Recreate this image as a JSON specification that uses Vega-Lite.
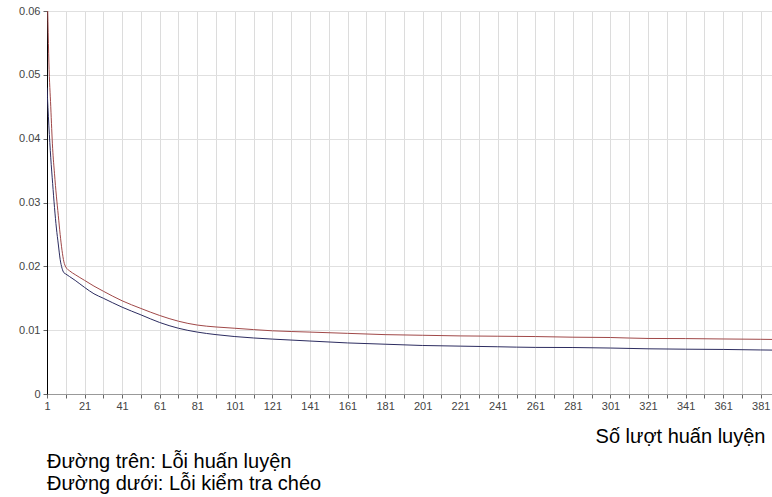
{
  "$schema": "https://vega.github.io/schema/vega-lite/v6.json",
  "autosize": {"type": "none"},
  "padding": {"left": 47, "top": 11, "right": 0, "bottom": 103},
  "width": 725,
  "height": 383,
  "background": "white",
  "config": {
    "view": {"stroke": "#a0a0a0", "strokeWidth": 1},
    "font": "Liberation Sans"
  },
  "title": {
    "text": ["Đường trên: Lỗi huấn luyện", "Đường dưới: Lỗi kiểm tra chéo"],
    "orient": "bottom",
    "anchor": "start",
    "frame": "group",
    "font": "Liberation Sans",
    "fontSize": 20,
    "fontWeight": "normal",
    "color": "#000000",
    "lineHeight": 22,
    "offset": 6
  },
  "data": {
    "values": [
      {"x": 1, "s": "Lỗi huấn luyện", "v": 0.066},
      {"x": 2, "s": "Lỗi huấn luyện", "v": 0.052},
      {"x": 3, "s": "Lỗi huấn luyện", "v": 0.045},
      {"x": 4, "s": "Lỗi huấn luyện", "v": 0.0385},
      {"x": 5, "s": "Lỗi huấn luyện", "v": 0.0345},
      {"x": 6, "s": "Lỗi huấn luyện", "v": 0.031},
      {"x": 7, "s": "Lỗi huấn luyện", "v": 0.028},
      {"x": 8, "s": "Lỗi huấn luyện", "v": 0.025},
      {"x": 9, "s": "Lỗi huấn luyện", "v": 0.0225},
      {"x": 10, "s": "Lỗi huấn luyện", "v": 0.0207},
      {"x": 11, "s": "Lỗi huấn luyện", "v": 0.0199},
      {"x": 13, "s": "Lỗi huấn luyện", "v": 0.0193},
      {"x": 16, "s": "Lỗi huấn luyện", "v": 0.0187},
      {"x": 21, "s": "Lỗi huấn luyện", "v": 0.0178},
      {"x": 26, "s": "Lỗi huấn luyện", "v": 0.0169},
      {"x": 31, "s": "Lỗi huấn luyện", "v": 0.0161},
      {"x": 41, "s": "Lỗi huấn luyện", "v": 0.0146},
      {"x": 51, "s": "Lỗi huấn luyện", "v": 0.0134},
      {"x": 61, "s": "Lỗi huấn luyện", "v": 0.0123},
      {"x": 71, "s": "Lỗi huấn luyện", "v": 0.0114},
      {"x": 81, "s": "Lỗi huấn luyện", "v": 0.0108},
      {"x": 91, "s": "Lỗi huấn luyện", "v": 0.0105},
      {"x": 101, "s": "Lỗi huấn luyện", "v": 0.0103},
      {"x": 121, "s": "Lỗi huấn luyện", "v": 0.0099},
      {"x": 141, "s": "Lỗi huấn luyện", "v": 0.0097},
      {"x": 161, "s": "Lỗi huấn luyện", "v": 0.0095},
      {"x": 181, "s": "Lỗi huấn luyện", "v": 0.0093},
      {"x": 201, "s": "Lỗi huấn luyện", "v": 0.0092},
      {"x": 221, "s": "Lỗi huấn luyện", "v": 0.0091},
      {"x": 241, "s": "Lỗi huấn luyện", "v": 0.00905},
      {"x": 261, "s": "Lỗi huấn luyện", "v": 0.0090},
      {"x": 281, "s": "Lỗi huấn luyện", "v": 0.0089},
      {"x": 301, "s": "Lỗi huấn luyện", "v": 0.00885},
      {"x": 321, "s": "Lỗi huấn luyện", "v": 0.0087},
      {"x": 341, "s": "Lỗi huấn luyện", "v": 0.00868},
      {"x": 361, "s": "Lỗi huấn luyện", "v": 0.00862},
      {"x": 381, "s": "Lỗi huấn luyện", "v": 0.00857},
      {"x": 387, "s": "Lỗi huấn luyện", "v": 0.00855},
      {"x": 1, "s": "Lỗi kiểm tra chéo", "v": 0.048},
      {"x": 2, "s": "Lỗi kiểm tra chéo", "v": 0.042},
      {"x": 3, "s": "Lỗi kiểm tra chéo", "v": 0.037},
      {"x": 4, "s": "Lỗi kiểm tra chéo", "v": 0.033},
      {"x": 5, "s": "Lỗi kiểm tra chéo", "v": 0.0292},
      {"x": 6, "s": "Lỗi kiểm tra chéo", "v": 0.026},
      {"x": 7, "s": "Lỗi kiểm tra chéo", "v": 0.0235},
      {"x": 8, "s": "Lỗi kiểm tra chéo", "v": 0.0211},
      {"x": 9, "s": "Lỗi kiểm tra chéo", "v": 0.0197},
      {"x": 10, "s": "Lỗi kiểm tra chéo", "v": 0.019},
      {"x": 11, "s": "Lỗi kiểm tra chéo", "v": 0.0188},
      {"x": 13, "s": "Lỗi kiểm tra chéo", "v": 0.0184},
      {"x": 16, "s": "Lỗi kiểm tra chéo", "v": 0.0178},
      {"x": 21, "s": "Lỗi kiểm tra chéo", "v": 0.0167},
      {"x": 26, "s": "Lỗi kiểm tra chéo", "v": 0.0157},
      {"x": 31, "s": "Lỗi kiểm tra chéo", "v": 0.015},
      {"x": 41, "s": "Lỗi kiểm tra chéo", "v": 0.0136},
      {"x": 51, "s": "Lỗi kiểm tra chéo", "v": 0.0124},
      {"x": 61, "s": "Lỗi kiểm tra chéo", "v": 0.0112},
      {"x": 71, "s": "Lỗi kiểm tra chéo", "v": 0.0103},
      {"x": 81, "s": "Lỗi kiểm tra chéo", "v": 0.0097},
      {"x": 91, "s": "Lỗi kiểm tra chéo", "v": 0.0093},
      {"x": 101, "s": "Lỗi kiểm tra chéo", "v": 0.0090},
      {"x": 121, "s": "Lỗi kiểm tra chéo", "v": 0.0086},
      {"x": 141, "s": "Lỗi kiểm tra chéo", "v": 0.0083},
      {"x": 161, "s": "Lỗi kiểm tra chéo", "v": 0.0080},
      {"x": 181, "s": "Lỗi kiểm tra chéo", "v": 0.0078},
      {"x": 201, "s": "Lỗi kiểm tra chéo", "v": 0.0076},
      {"x": 221, "s": "Lỗi kiểm tra chéo", "v": 0.0075},
      {"x": 241, "s": "Lỗi kiểm tra chéo", "v": 0.0074},
      {"x": 261, "s": "Lỗi kiểm tra chéo", "v": 0.0073},
      {"x": 281, "s": "Lỗi kiểm tra chéo", "v": 0.00728},
      {"x": 301, "s": "Lỗi kiểm tra chéo", "v": 0.0072},
      {"x": 321, "s": "Lỗi kiểm tra chéo", "v": 0.00708},
      {"x": 341, "s": "Lỗi kiểm tra chéo", "v": 0.00702},
      {"x": 361, "s": "Lỗi kiểm tra chéo", "v": 0.00698},
      {"x": 381, "s": "Lỗi kiểm tra chéo", "v": 0.0069},
      {"x": 387, "s": "Lỗi kiểm tra chéo", "v": 0.00688}
    ]
  },
  "mark": {"type": "line", "strokeWidth": 1, "clip": true, "interpolate": "monotone"},
  "encoding": {
    "x": {
      "field": "x",
      "type": "quantitative",
      "scale": {"domain": [1, 387], "nice": false, "zero": false},
      "axis": {
        "values": [1, 11, 21, 31, 41, 51, 61, 71, 81, 91, 101, 111, 121, 131, 141, 151, 161, 171, 181, 191, 201, 211, 221, 231, 241, 251, 261, 271, 281, 291, 301, 311, 321, 331, 341, 351, 361, 371, 381],
        "labelExpr": "(datum.value - 1) % 20 == 0 ? datum.label : ''",
        "format": "d",
        "title": "Số lượt huấn luyện",
        "titleAnchor": "end",
        "titleAlign": "right",
        "titleX": 718,
        "titleFont": "Liberation Sans",
        "titleFontSize": 20,
        "titleFontWeight": "normal",
        "titleColor": "#000000",
        "titlePadding": 15,
        "labelFont": "Liberation Sans",
        "labelFontSize": 11,
        "labelColor": "#444444",
        "labelPadding": 2,
        "labelFlush": false,
        "labelOverlap": false,
        "domainColor": "#999999",
        "tickColor": "#666666",
        "tickSize": 4,
        "gridColor": "#dcdcdc",
        "grid": true
      }
    },
    "y": {
      "field": "v",
      "type": "quantitative",
      "scale": {"domain": [0, 0.06], "nice": false},
      "axis": {
        "values": [0, 0.01, 0.02, 0.03, 0.04, 0.05, 0.06],
        "format": "~g",
        "title": null,
        "labelFont": "Liberation Sans",
        "labelFontSize": 11,
        "labelColor": "#444444",
        "labelPadding": 3,
        "domainColor": "#000000",
        "tickColor": "#666666",
        "tickSize": 4,
        "gridColor": "#e0e0e0",
        "grid": true
      }
    },
    "color": {
      "field": "s",
      "type": "nominal",
      "scale": {"domain": ["Lỗi huấn luyện", "Lỗi kiểm tra chéo"], "range": ["#a04848", "#2c2c60"]},
      "legend": null
    }
  }
}
